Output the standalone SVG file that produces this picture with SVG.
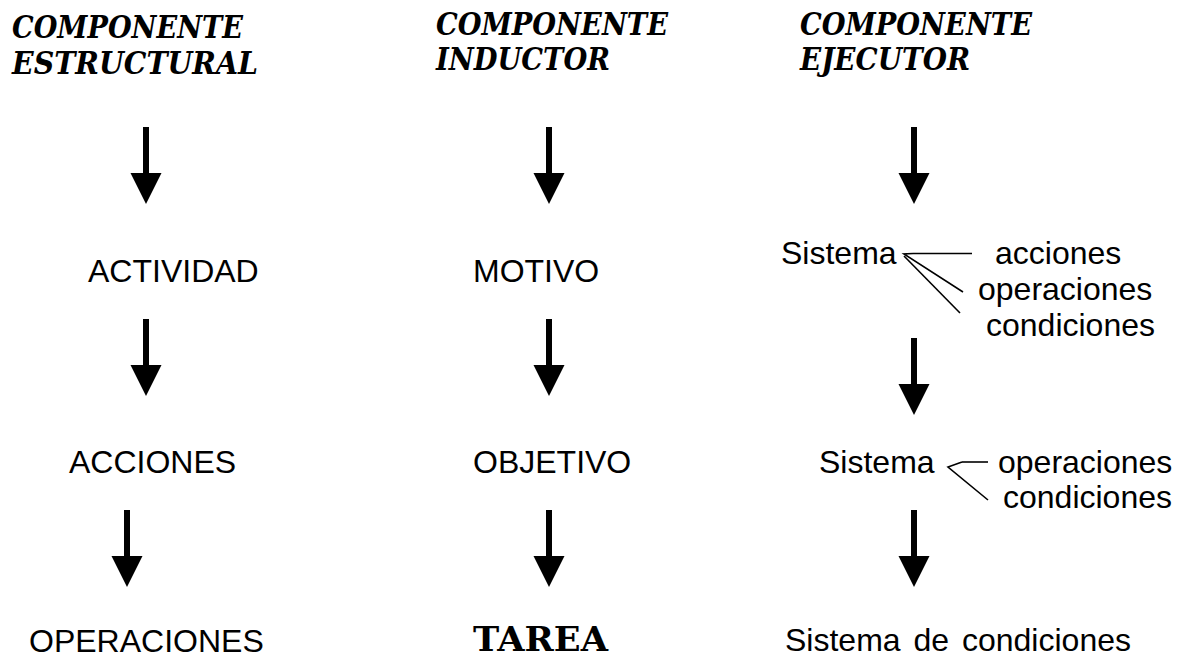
<svg xmlns="http://www.w3.org/2000/svg" width="1186" height="657" viewBox="0 0 1186 657">
<style>
.h{font-family:"DejaVu Serif","Liberation Serif",serif;font-weight:bold;font-style:italic;font-size:32px;fill:#000}
.t{font-family:"Liberation Sans",Arial,sans-serif;font-size:32px;fill:#000}
.b{font-family:"DejaVu Serif","Liberation Serif",serif;font-weight:bold;font-size:33px;fill:#000}
.ln{stroke:#000;stroke-width:1.6;fill:none}
</style>
<defs>
<g id="arr">
<rect x="-3" y="0" width="6" height="47" fill="#000"/>
<polygon points="-15.5,46 15.5,46 0,77" fill="#000"/>
</g>
</defs>
<rect width="1186" height="657" fill="#fff"/>
<g id="head1">
<text class="h" x="12" y="38" textLength="231" lengthAdjust="spacingAndGlyphs">COMPONENTE</text>
<text class="h" x="12" y="74" textLength="246" lengthAdjust="spacingAndGlyphs">ESTRUCTURAL</text>
</g>
<g id="head2">
<text class="h" x="436" y="35" textLength="232" lengthAdjust="spacingAndGlyphs">COMPONENTE</text>
<text class="h" x="436" y="70" textLength="174" lengthAdjust="spacingAndGlyphs">INDUCTOR</text>
</g>
<g id="head3">
<text class="h" x="800" y="35" textLength="232" lengthAdjust="spacingAndGlyphs">COMPONENTE</text>
<text class="h" x="800" y="70" textLength="170" lengthAdjust="spacingAndGlyphs">EJECUTOR</text>
</g>
<g id="actividad"><text class="t" x="88" y="282">ACTIVIDAD</text></g>
<g id="acciones"><text class="t" x="69" y="473">ACCIONES</text></g>
<g id="operaciones"><text class="t" x="29" y="652">OPERACIONES</text></g>
<g id="motivo"><text class="t" x="473" y="282">MOTIVO</text></g>
<g id="objetivo"><text class="t" x="473" y="473">OBJETIVO</text></g>
<g id="tarea"><text class="b" x="473" y="651" textLength="135" lengthAdjust="spacingAndGlyphs">TAREA</text></g>
<g id="sistema1">
<text class="t" x="781" y="264">Sistema</text>
<text class="t" x="995" y="264">acciones</text>
<text class="t" x="978" y="300">operaciones</text>
<text class="t" x="986" y="336">condiciones</text>
</g>
<g id="sistema2">
<text class="t" x="819" y="473">Sistema</text>
<text class="t" x="998" y="473">operaciones</text>
<text class="t" x="1003" y="508">condiciones</text>
</g>
<g id="sistema3"><text class="t" x="785" y="651" word-spacing="4">Sistema de condiciones</text></g>
<g id="connectors">
<use href="#arr" x="146" y="127"/>
<use href="#arr" x="146" y="319"/>
<use href="#arr" x="127" y="510"/>
<use href="#arr" x="549" y="127"/>
<use href="#arr" x="549" y="319"/>
<use href="#arr" x="549" y="510"/>
<use href="#arr" x="914" y="127"/>
<use href="#arr" x="914" y="338"/>
<use href="#arr" x="914" y="510"/>
<line class="ln" x1="913" y1="253.5" x2="972" y2="253.5"/>
<polyline class="ln" points="913,253.5 904,254 963,292"/>
<line class="ln" x1="904" y1="256" x2="960" y2="313"/>
<polyline class="ln" points="962,462 948,467 988,500"/>
<line class="ln" x1="962" y1="462" x2="988" y2="462"/>
</g>
</svg>
